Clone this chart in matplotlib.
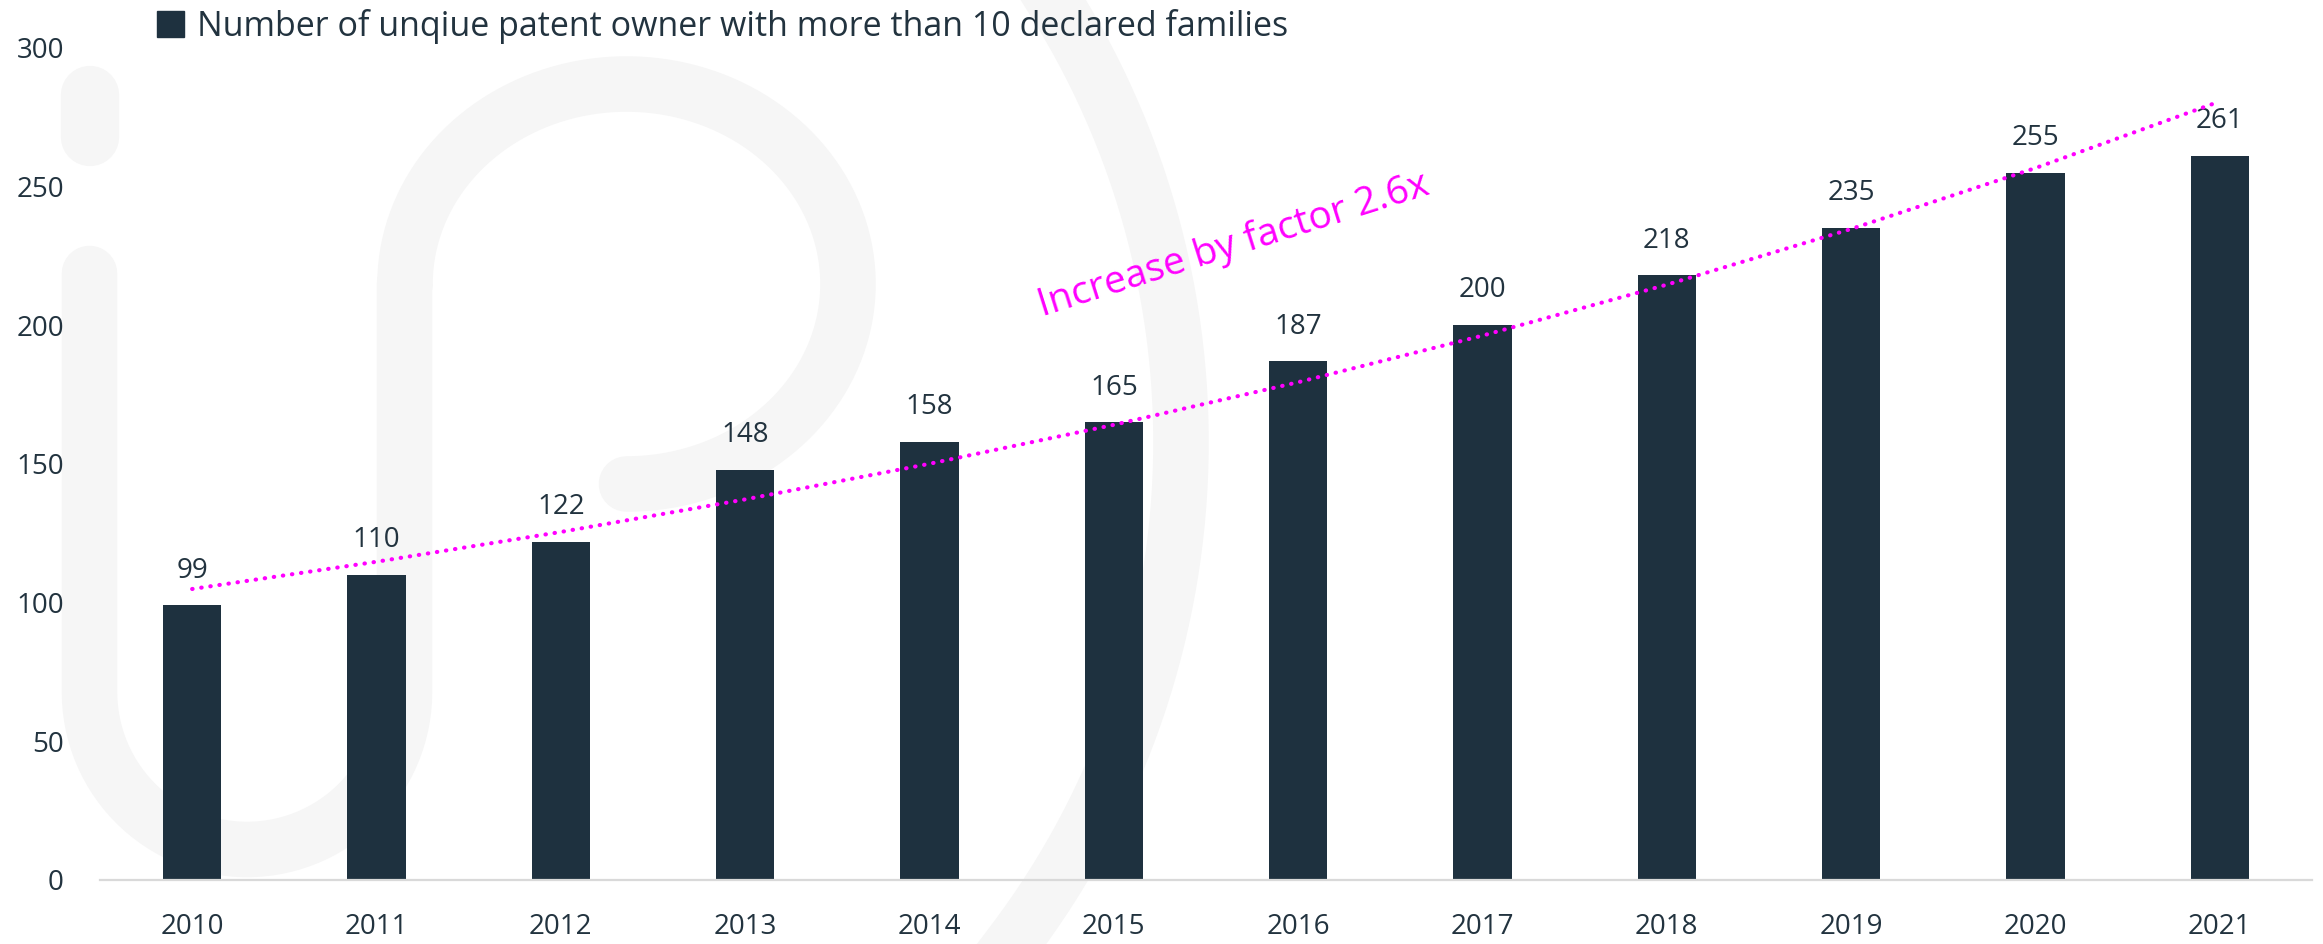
import numpy as np
import matplotlib
matplotlib.use("Agg")
import matplotlib.pyplot as plt
from matplotlib.patches import Patch

years = ["2010", "2011", "2012", "2013", "2014", "2015",
         "2016", "2017", "2018", "2019", "2020", "2021"]
owners = [99, 110, 122, 148, 158, 165, 187, 200, 218, 235, 255, 261]
legend_label = "Number of unqiue patent owner with more than 10 declared families"
note = "Increase by factor 2.6x"

BAR = "#1E313F"
TXT = "#22333F"
PINK = "#FF00FF"
WM = "#F6F6F6"

plt.rcParams["font.family"] = ["Open Sans", "DejaVu Sans"]

fig = plt.figure(figsize=(23.23, 9.44), dpi=100)

# faint "ip" watermark behind the chart (figure pixel space, y down)
bg = fig.add_axes([0, 0, 1, 1], zorder=0)
bg.set_xlim(0, 2323)
bg.set_ylim(944, 0)
bg.axis("off")
bg.plot([89.5, 89.5], [94.5, 136.5], color=WM, lw=42, solid_capstyle="round")
t1 = np.linspace(np.pi, 0, 60)
t2 = np.linspace(np.pi, 2.5 * np.pi, 120)
px = np.concatenate([[89.5], 247 + 157.5 * np.cos(t1), [404.5], 626.5 + 221.5 * np.cos(t2)])
py = np.concatenate([[273.5], 692 + 157.5 * np.sin(t1), [284], 284 + 200 * np.sin(t2)])
bg.plot(px, py, color=WM, lw=40, solid_capstyle="round", solid_joinstyle="round")
t3 = np.linspace(-0.7, 0.8, 150)
bg.plot(352 + 829 * np.cos(t3), 442 + 829 * np.sin(t3), color=WM, lw=40)

ax = fig.add_axes([100 / 2323, 64 / 944, 2212 / 2323, 832 / 944], zorder=1)
ax.patch.set_alpha(0)

x = np.arange(len(years))
bars = ax.bar(x, owners, width=0.315, color=BAR, zorder=2)
ax.bar_label(bars, labels=[str(v) for v in owners], padding=15, fontsize=20, color=TXT)

# exponential trendline fitted to the data, like the spreadsheet one
k, b = np.polyfit(x, np.log(owners), 1)
ax.plot(x, np.exp(k * x + b), color=PINK, lw=3, linestyle=(0, (0.1, 2.1)),
        dash_capstyle="round", zorder=3)
ax.text(5.65, 229, note, color=PINK, fontsize=28, rotation=17.5,
        ha="center", va="center", rotation_mode="anchor")

ax.set_xlim(-0.5, len(years) - 0.5)
ax.set_ylim(0, 300)
ax.set_yticks([0, 50, 100, 150, 200, 250, 300])
ax.set_xticks(x)
ax.set_xticklabels(years)
ax.tick_params(axis="both", length=0, labelsize=20, labelcolor=TXT)
ax.tick_params(axis="y", pad=26)
ax.tick_params(axis="x", pad=24)
for s in ["top", "right", "left"]:
    ax.spines[s].set_visible(False)
ax.spines["bottom"].set_color("#D9D9D9")
ax.spines["bottom"].set_linewidth(1.6)

ax.legend(handles=[Patch(color=BAR, label=legend_label)], loc="upper left",
          bbox_to_anchor=(157 / 2323, 1 - 9 / 944), bbox_transform=fig.transFigure,
          frameon=False, fontsize=24.5, handlelength=0.78, handleheight=0.78,
          handletextpad=0.4, borderpad=0, borderaxespad=0, labelcolor=TXT)

fig.savefig("out.png", dpi=100)
